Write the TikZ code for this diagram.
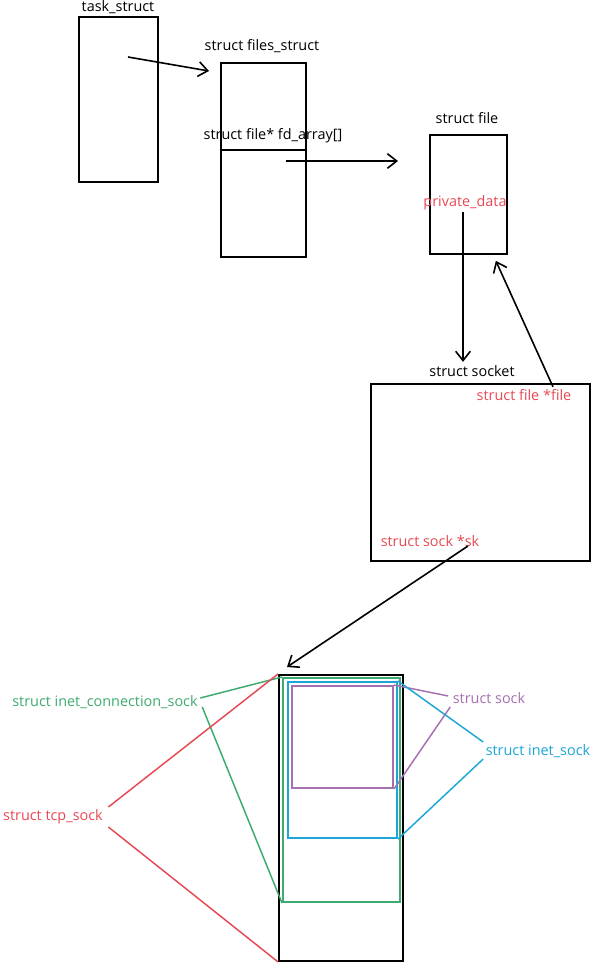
\documentclass[tikz,border=0pt]{standalone}
\usepackage{fontspec}
\setmainfont{Open Sans}
\usetikzlibrary{arrows.meta,calc}
\definecolor{fieldred}{RGB}{232,72,84}
\definecolor{icsgreen}{RGB}{62,170,112}
\definecolor{sockpurple}{RGB}{165,112,175}
\definecolor{inetblue}{RGB}{28,166,214}
\tikzset{
  box/.style 2 args={draw,line width=1.4pt,anchor=north west,inner sep=0pt,minimum width=#1*0.75pt,minimum height=#2*0.75pt},
  layer/.style n args={3}{box={#1}{#2},draw=#3,line width=1.5pt},
  link/.style={draw=#1,line width=1.1pt},
}
\begin{document}
\begin{tikzpicture}[x=0.75pt,y=-0.75pt,font=\fontsize{10.8}{13}\selectfont,inner sep=1pt,>={Straight Barb[length=7pt,width=11pt]}]
\useasboundingbox (0,0) rectangle (610,965);
% task_struct -> files_struct -> file
\node[box={79}{165}] (task) at (78,16) {};
\node (tasklbl) at (118,7.5) {task\_struct};
\node[box={85}{194}] (files) at (220,62) {};
\node[box={85}{107}] (fdarr) at (220,149) {};
\node (fileslbl) at (262,46) {struct files\_struct};
\node (fdlbl) at (273,136) {struct file* fd\_array[]};
\node[box={77}{119}] (file) at (429,134) {};
\node (filelbl) at (467,118) {struct file};
\node[text=fieldred] (privdata) at (465,203) {private\_data};
\coordinate (taskptr) at (128,57);
\coordinate (fdptr) at (286,161);
\draw[->,line width=1.2pt] (taskptr) -- ($(files.north west)+(-11,9)$);
\draw[->,line width=1.2pt] (fdptr) -- ($(file.west |- fdptr)+(-31,0)$);
% struct socket
\node[box={219}{177}] (socket) at (370,383) {};
\node (socklbl) at (472,371) {struct socket};
\node[text=fieldred] (filefld) at (524,395) {struct file *file};
\node[text=fieldred] (skfld) at (430,541) {struct sock *sk};
\draw[->,line width=1.2pt] (privdata.south -| 463,0) -- ($(socklbl.north -| 463,0)+(0,-2)$);
\draw[->,line width=1.2pt] ($(filefld.north)+(29,-1)$) -- ($(file.south east)+(-12,6)$);
% tcp_sock layers
\node[box={124}{286}] (tcp) at (278,674) {};
\node[layer={117}{224}{icsgreen}] (ics) at (282,677) {};
\node[layer={109}{156}{inetblue}] (inet) at (287,681) {};
\node[layer={101}{102}{sockpurple}] (sk) at (291,685) {};
\draw[->,line width=1.2pt] ($(skfld.center)+(38,5)$) -- ($(tcp.north west)+(9,-7)$);
\node[text=icsgreen] (icslbl) at (105,702) {struct inet\_connection\_sock};
\node[text=fieldred] (tcplbl) at (53,817) {struct tcp\_sock};
\node[text=sockpurple] (sklbl) at (489,698) {struct sock};
\node[text=inetblue] (inetlbl) at (538,751) {struct inet\_sock};
\draw[link=icsgreen] ($(icslbl.east)+(1,-4)$) -- (ics.north west);
\draw[link=icsgreen] ($(icslbl.east)+(3,5)$) -- (ics.south west);
\draw[link=fieldred] ($(tcplbl.east)+(4,-10)$) -- (tcp.north west);
\draw[link=fieldred] ($(tcplbl.east)+(4,10)$) -- (tcp.south west);
\draw[link=sockpurple] ($(sklbl.west)+(-3,-2)$) -- (sk.north east);
\draw[link=sockpurple] ($(sklbl.west)+(-1,9)$) -- (sk.south east);
\draw[link=inetblue] ($(inetlbl.west)+(-1,-9)$) -- (inet.north east);
\draw[link=inetblue] ($(inetlbl.west)+(-1,8)$) -- (inet.south east);
\end{tikzpicture}
\end{document}
